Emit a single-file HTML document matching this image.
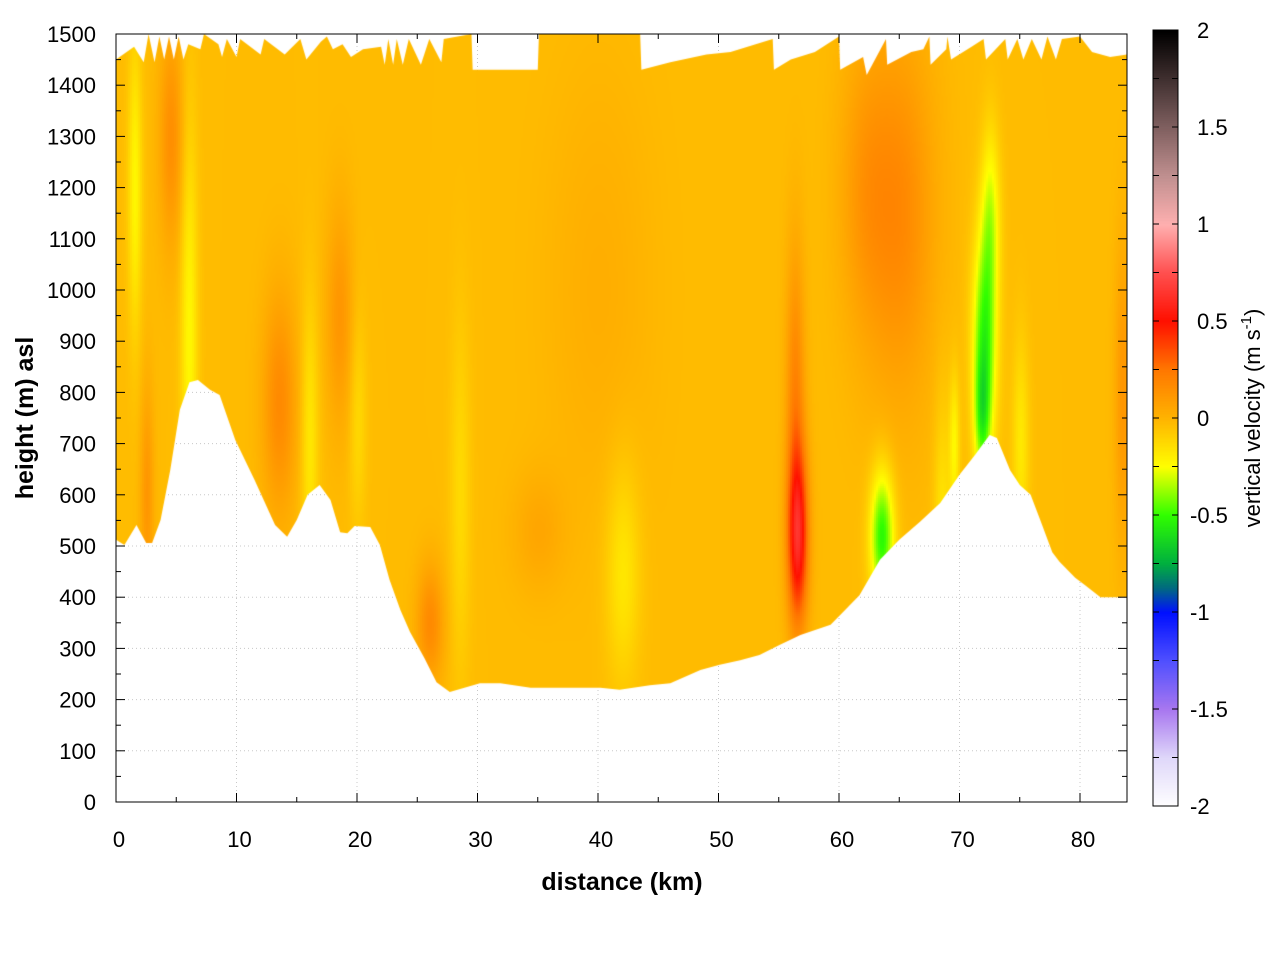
<!DOCTYPE html>
<html><head><meta charset="utf-8"><style>
html,body{margin:0;padding:0;background:#fff;}
#wrap{position:relative;width:1280px;height:960px;font-family:"Liberation Sans",sans-serif;}
canvas,svg{position:absolute;left:0;top:0;}
</style></head><body>
<div id="wrap">
<svg id="under" width="1280" height="960"></svg>
<canvas id="cv" width="1280" height="960"></canvas>
<svg id="over" width="1280" height="960"></svg>
</div>
<script>
// ---- data ----
const terrainKm=[0,0.7,1.7,2.5,3,3.7,4.5,5.3,6.1,6.8,7.8,8.6,9.9,11.5,13.2,14.2,15,15.9,16.9,17.8,18.6,19.2,19.8,21.1,21.9,22.7,23.6,24.4,25.6,26.6,27.7,30.2,31.9,34.4,36,40.2,41.8,44.3,46,48.5,50.1,51.8,53.4,55.1,56.8,59.3,60.1,61.7,63.4,65,66.7,68.4,70,71.3,72.5,73.1,74.2,75,75.9,76.7,77.7,78.3,79.6,80.4,81.7,83.9];
const terrainM=[512,502,541,506,506,551,648,766,820,824,805,795,707,629,541,518,551,600,619,590,527,525,539,537,502,434,375,332,281,234,215,232,232,223,223,223,219,228,232,258,268,277,287,307,326,346,365,404,473,512,547,584,639,678,717,711,648,619,600,551,488,469,438,424,400,400];
const topKm=[0,1.5,2.3,2.7,3.2,3.6,4,4.4,4.8,5.2,5.6,6,7,7.3,8.5,8.8,9.2,10,10.3,12,12.3,14,15.3,15.8,17,17.5,18,18.8,19.5,20.5,22,22.3,22.6,23,23.3,23.8,24.3,25.3,26,27,27.2,29.5,29.6,31,35,35.1,43.5,43.6,46,49,51,54.5,54.6,56,58,60,60.1,62,62.3,63.9,64,66,67,67.5,67.6,68.9,69,69.3,71,72,72.2,73.8,74,74.8,75.3,76,76.8,77.3,78,78.5,80,81,82.5,83.9];
const topM=[1450,1475,1445,1500,1445,1495,1450,1495,1450,1495,1450,1480,1470,1500,1480,1455,1490,1455,1490,1460,1490,1460,1490,1450,1485,1495,1470,1480,1455,1470,1475,1440,1490,1440,1490,1440,1490,1440,1490,1445,1490,1500,1430,1430,1430,1500,1500,1430,1445,1460,1465,1490,1430,1450,1465,1495,1430,1455,1420,1490,1440,1465,1470,1495,1440,1470,1495,1450,1475,1490,1450,1490,1450,1490,1450,1490,1450,1495,1450,1490,1495,1465,1455,1460];
const background=-0.025;
const blobKm=[56.5,56.3,72,71.8,72.5,63.5,65,13.5,18.5,4.5,2.5,26,83.5,35,6,1.5,16,20,42,28.5,75,68.5,69.5,62,40];
const blobM=[520,800,900,750,1150,520,1150,780,950,1300,600,350,800,530,900,1200,700,750,450,600,700,500,700,1200,1000];
const blobVal=[0.6,0.22,-0.48,-0.3,-0.25,-0.5,0.2,0.2,0.15,0.18,0.15,0.2,0.15,0.08,-0.2,-0.2,-0.15,-0.1,-0.15,-0.1,-0.15,-0.15,-0.2,0.12,0.05];
const blobSk=[0.6,0.55,0.7,0.45,0.55,0.7,2.0,1.0,0.8,0.7,0.4,0.8,0.5,1.5,0.5,0.4,0.5,0.5,1.0,0.6,0.5,0.5,0.3,1.5,3];
const blobSm=[120,200,150,80,120,90,250,150,150,150,150,80,200,80,300,200,200,150,150,250,150,200,100,200,300];
const xTicks=[0,10,20,30,40,50,60,70,80];
const yTicks=[0,100,200,300,400,500,600,700,800,900,1000,1100,1200,1300,1400,1500];
const cbTicks=[2,1.5,1,0.5,0,-0.5,-1,-1.5,-2];
const palV=[-2,-1.75,-1.5,-1.25,-1,-0.875,-0.75,-0.5,-0.25,0,0.25,0.5,0.75,1,1.25,1.5,1.75,2];
const palC=["#ffffff","#e0d8fa","#a878f0","#5050ff","#0010ff","#006a80","#00b040","#30ff00","#ffff00","#ffb400","#ff7800","#ff1000","#ff5050","#ffb0b0","#c09090","#806060","#403030","#000000"];
// ---- scales ----
const X0=116,X1=1127,Y0=802,Y1=34;
const xs=k=>X0+k*12.05;
const ys=m=>Y0-m*(Y0-Y1)/1500;
const CBX=1153,CBW=25,CBT=30,CBB=806;
const cy=v=>CBB-(v+2)*(CBB-CBT)/4;
function hex(c){return[parseInt(c.slice(1,3),16),parseInt(c.slice(3,5),16),parseInt(c.slice(5,7),16)];}
const palRGB=palC.map(hex);
function col(v){v=Math.max(-2,Math.min(2,v));for(let i=0;i<palV.length-1;i++){if(v<=palV[i+1]){const t=(v-palV[i])/(palV[i+1]-palV[i]);const a=palRGB[i],b=palRGB[i+1];return[a[0]+(b[0]-a[0])*t,a[1]+(b[1]-a[1])*t,a[2]+(b[2]-a[2])*t];}}return palRGB[palRGB.length-1];}
function field(k,m){let v=background;for(let i=0;i<blobKm.length;i++){const dx=(k-blobKm[i])/blobSk[i],dy=(m-blobM[i])/blobSm[i];v+=blobVal[i]*Math.exp(-0.5*(dx*dx+dy*dy));}return v;}
const NS="http://www.w3.org/2000/svg";
function mk(parent,tag,attrs,name,txt){const e=document.createElementNS(NS,tag);for(const k in attrs)e.setAttribute(k,attrs[k]);


if(txt!==undefined)e.textContent=txt;parent.appendChild(e);return e;}
const under=document.getElementById('under'),over=document.getElementById('over');
// grid
xTicks.forEach(t=>{if(t>0)mk(under,'line',{x1:xs(t),x2:xs(t),y1:Y1,y2:Y0,stroke:'#c8c8c8','stroke-dasharray':'1,3'},'grid-x');});
yTicks.forEach(t=>{if(t>0&&t<1500)mk(under,'line',{x1:X0,x2:X1,y1:ys(t),y2:ys(t),stroke:'#c8c8c8','stroke-dasharray':'1,3'},'grid-y');});
// heatmap
const cv=document.getElementById('cv'),ctx=cv.getContext('2d');
const W=X1-X0,H=Y0-Y1;const off=document.createElement('canvas');off.width=W;off.height=H;const oc=off.getContext('2d');const img=oc.createImageData(W,H);
const step=2;
for(let py=0;py<H;py+=step){const m=(Y0-(Y1+py))*1500/H;for(let px=0;px<W;px+=step){const k=px/12.05;const c=col(field(k,m));for(let dy=0;dy<step&&py+dy<H;dy++)for(let dx=0;dx<step&&px+dx<W;dx++){const o=((py+dy)*W+px+dx)*4;img.data[o]=c[0];img.data[o+1]=c[1];img.data[o+2]=c[2];img.data[o+3]=255;}}}
oc.putImageData(img,0,0);
ctx.save();ctx.beginPath();
topKm.forEach((k,i)=>{const x=xs(k),y=ys(topM[i]);i?ctx.lineTo(x,y):ctx.moveTo(x,y);});
for(let i=terrainKm.length-1;i>=0;i--)ctx.lineTo(xs(terrainKm[i]),ys(terrainM[i]));
ctx.closePath();ctx.clip();ctx.drawImage(off,X0,Y1);ctx.restore();
// colorbar
for(let py=CBT;py<CBB;py++){const v=2-(py-CBT)*4/(CBB-CBT);const c=col(v);ctx.fillStyle=`rgb(${c[0]|0},${c[1]|0},${c[2]|0})`;ctx.fillRect(CBX,py,CBW,1);}
// axes frame
mk(over,'rect',{x:X0,y:Y1,width:W,height:H,fill:'none',stroke:'#000'},'plot-frame');
for(let t=0;t<=80;t+=5){const L=t%10?5:9;mk(over,'line',{x1:xs(t),x2:xs(t),y1:Y0,y2:Y0-L,stroke:'#000'},'x-tick');mk(over,'line',{x1:xs(t),x2:xs(t),y1:Y1,y2:Y1+L,stroke:'#000'},'x-tick-top');}
for(let t=0;t<=1500;t+=50){const L=t%100?5:9;mk(over,'line',{x1:X0,x2:X0+L,y1:ys(t),y2:ys(t),stroke:'#000'},'y-tick');mk(over,'line',{x1:X1,x2:X1-L,y1:ys(t),y2:ys(t),stroke:'#000'},'y-tick-right');}
xTicks.forEach(t=>mk(over,'text',{x:xs(t)+3,y:847,'font-size':22,'text-anchor':'middle'},'x-tick-label',String(t)));
yTicks.forEach(t=>mk(over,'text',{x:96,y:ys(t)+8,'font-size':22,'text-anchor':'end'},'y-tick-label',String(t)));
mk(over,'text',{x:622,y:890,'font-size':25,'font-weight':'bold','text-anchor':'middle'},'x-axis-title','distance (km)');
mk(over,'text',{x:33,y:418,'font-size':25,'font-weight':'bold','text-anchor':'middle',transform:'rotate(-90 33 418)'},'y-axis-title','height (m) asl');
mk(over,'rect',{x:CBX,y:CBT,width:CBW,height:CBB-CBT,fill:'none',stroke:'#000'},'colorbar-frame');
for(let v=-1.75;v<2;v+=0.25){mk(over,'line',{x1:CBX,x2:CBX+6,y1:cy(v),y2:cy(v),stroke:'#000'},'colorbar-tick');mk(over,'line',{x1:CBX+CBW,x2:CBX+CBW-6,y1:cy(v),y2:cy(v),stroke:'#000'},'colorbar-tick');}
cbTicks.forEach(v=>mk(over,'text',{x:v<0?1190:1197,y:cy(v)+8,'font-size':22},'colorbar-label',String(v)));
const ct=mk(over,'text',{x:1260,y:418,'font-size':22,'text-anchor':'middle',transform:'rotate(-90 1260 418)'},'colorbar-title','vertical velocity (m s');
const sup=mk(ct,'tspan',{dy:-9,'font-size':15},'colorbar-title-sup','-1');
mk(ct,'tspan',{dy:9},'colorbar-title-end',')');
</script>
</body></html>
